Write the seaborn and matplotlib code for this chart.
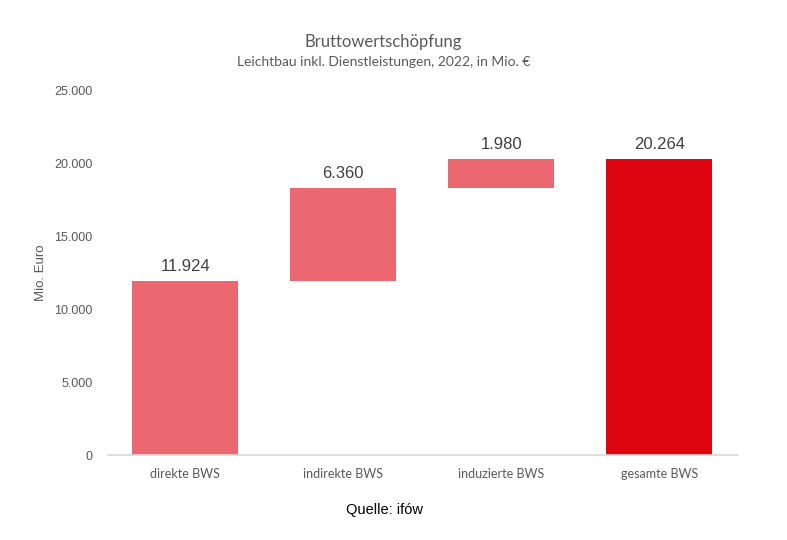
import matplotlib
matplotlib.use("Agg")
import matplotlib.pyplot as plt
import matplotlib.ticker as mticker
import seaborn as sns
import numpy as np
import pandas as pd

categories = ["direkte BWS", "indirekte BWS", "induzierte BWS", "gesamte BWS"]
values = [11924, 6360, 1980, 20264]
is_total = [False, False, False, True]
colors = ["#EB6870", "#EB6870", "#EB6870", "#DC0510"]
yticks = [0, 5000, 10000, 15000, 20000, 25000]

# waterfall bottoms
bottoms = []
run = 0
for v, t in zip(values, is_total):
    if t:
        bottoms.append(0)
    else:
        bottoms.append(run)
        run += v

df = pd.DataFrame({"cat": categories, "val": values, "bottom": bottoms})

sns.set_theme(style="white")
plt.rcParams["font.family"] = ["Liberation Sans", "DejaVu Sans"]

fig = plt.figure(figsize=(7.87, 5.40), dpi=100)
ax = fig.add_axes([0.137, 0.157, 0.801, 0.676])

sns.barplot(data=df, x="cat", y="val", order=categories, color=colors[0],
            width=0.67, bottom=np.array(bottoms), ax=ax, saturation=1,
            linewidth=0, errorbar=None)
for patch, c in zip(ax.patches, colors):
    patch.set_facecolor(c)

ax.set_ylim(0, 25000)
ax.set_xlim(-0.49, 3.5)
ax.set_yticks(yticks)
ax.yaxis.set_major_formatter(mticker.FuncFormatter(lambda v, p: f"{int(v):,}".replace(",", ".")))
for lab in ax.get_yticklabels():
    lab.set_fontsize(9)
    lab.set_color("#595959")
ax.tick_params(axis="y", length=0, pad=11)
ax.tick_params(axis="x", length=0, pad=9)
for lab in ax.get_xticklabels():
    lab.set_fontfamily(["Lato", "DejaVu Sans"])
    lab.set_fontsize(9)
    lab.set_color("#595959")

for s in ["top", "right", "left"]:
    ax.spines[s].set_visible(False)
ax.spines["bottom"].set_color("#D9D9D9")
ax.spines["bottom"].set_linewidth(1.2)

ax.set_xlabel("")
ax.set_ylabel("Mio. Euro", fontsize=9.5, color="#595959", labelpad=5)

for i, (v, b) in enumerate(zip(values, bottoms)):
    ax.annotate(f"{v:,}".replace(",", "."), xy=(i, b + v), xytext=(0, 5),
                textcoords="offset points", ha="center", va="bottom",
                fontsize=12, color="#404040")

fig.text(0.487, 0.922, "Bruttowertschöpfung", ha="center", va="center",
         fontsize=12, color="#595959", family=["Lato", "DejaVu Sans"])
fig.text(0.487, 0.885, "Leichtbau inkl. Dienstleistungen, 2022, in Mio. €", ha="center",
         va="center", fontsize=10, color="#595959", family=["Lato", "DejaVu Sans"])
fig.text(0.489, 0.055, "Quelle: ifów", ha="center", va="center", fontsize=10.5, color="black")

fig.savefig("out.png", dpi=100, facecolor="white")
